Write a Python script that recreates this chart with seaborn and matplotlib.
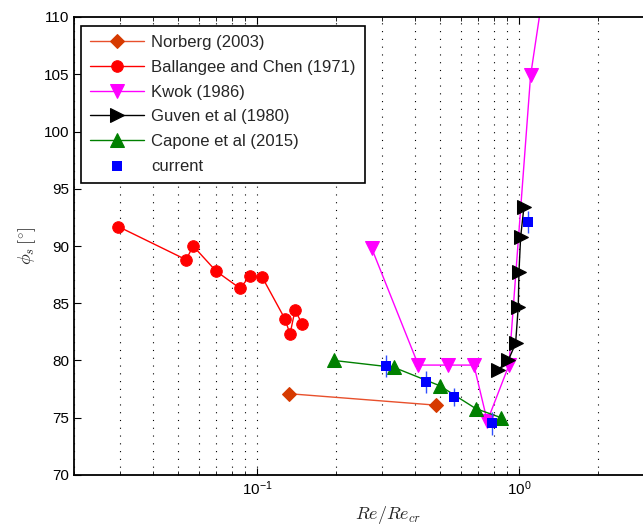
import numpy as np
import matplotlib
matplotlib.use('Agg')
import matplotlib.pyplot as plt
import seaborn as sns
from matplotlib.ticker import LogLocator, NullFormatter

# data
norberg_x = [0.1325, 0.482]
norberg_y = [77.1, 76.1]

ballangee_x = [0.0295, 0.0536, 0.057, 0.0698, 0.0861, 0.094, 0.1045, 0.128, 0.1336, 0.1396, 0.1486]
ballangee_y = [91.7, 88.8, 90.0, 87.8, 86.3, 87.4, 87.3, 83.6, 82.3, 84.4, 83.2]

kwok_x = [0.274, 0.413, 0.536, 0.673, 0.757, 0.916, 1.108, 1.5]
kwok_y = [89.8, 79.6, 79.6, 79.6, 74.7, 79.6, 104.9, 125.0]

guven_x = [0.834, 0.91, 0.971, 0.994, 1.0, 1.015, 1.045]
guven_y = [79.2, 80.0, 81.5, 84.7, 87.7, 90.8, 93.4]

capone_x = [0.197, 0.333, 0.498, 0.684, 0.856]
capone_y = [80.0, 79.4, 77.8, 75.8, 75.0]

current_x = [0.31, 0.44, 0.563, 0.787, 1.08]
current_y = [79.5, 78.1, 76.8, 74.5, 92.1]
current_err = [0.95, 0.95, 0.8, 1.0, 1.0]

sns.set_style('ticks')
plt.rcParams['font.family'] = ['Liberation Sans', 'DejaVu Sans']
plt.rcParams['mathtext.fontset'] = 'cm'

fig = plt.figure(figsize=(6.43, 5.26), dpi=100)
ax = fig.add_axes([74/643, 51/526, 628/643, 458/526])

sns.lineplot(x=norberg_x, y=norberg_y, ax=ax, color='#e8502c', linewidth=1,
             marker='D', markersize=7.3, markerfacecolor='#d63a00', markeredgecolor='#d63a00',
             label='Norberg (2003)', estimator=None, sort=False)
sns.lineplot(x=ballangee_x, y=ballangee_y, ax=ax, color='#ff0000', linewidth=1,
             marker='o', markersize=8.3, markerfacecolor='#ff0000', markeredgecolor='#ff0000',
             label='Ballangee and Chen (1971)', estimator=None, sort=False)
sns.lineplot(x=kwok_x, y=kwok_y, ax=ax, color='#ff00ff', linewidth=1,
             marker='v', markersize=9.5, markerfacecolor='#ff00ff', markeredgecolor='#ff00ff',
             label='Kwok (1986)', estimator=None, sort=False)
sns.lineplot(x=guven_x, y=guven_y, ax=ax, color='#000000', linewidth=1,
             marker='>', markersize=9.5, markerfacecolor='#000000', markeredgecolor='#000000',
             label='Guven et al (1980)', estimator=None, sort=False)
sns.lineplot(x=capone_x, y=capone_y, ax=ax, color='#008000', linewidth=1,
             marker='^', markersize=9.5, markerfacecolor='#008000', markeredgecolor='#008000',
             label='Capone et al (2015)', estimator=None, sort=False)
ax.errorbar(current_x, current_y, yerr=current_err, fmt='none', ecolor='#3050ff',
            elinewidth=1, capsize=0, zorder=5)
sns.scatterplot(x=current_x, y=current_y, ax=ax, marker='s', s=44, color='#0000ff',
                edgecolor='#0000ff', linewidth=0, label='current', zorder=6)

ax.set_xscale('log')
ax.set_xlim(0.02, 5)
ax.set_ylim(70, 110)
ax.set_yticks(np.arange(70, 111, 5))
ax.xaxis.set_major_locator(LogLocator(base=10))
ax.xaxis.set_minor_locator(LogLocator(base=10, subs=np.arange(2, 10)))
ax.xaxis.set_minor_formatter(NullFormatter())
ax.grid(True, which='both', axis='x', color='black', linestyle=(0, (1, 6)), linewidth=0.8)

for s in ['left', 'bottom', 'top']:
    ax.spines[s].set_linewidth(1.3)
    ax.spines[s].set_color('black')
ax.spines['right'].set_visible(False)
ax.tick_params(which='both', direction='in', top=True, labelsize=11, colors='black')
ax.tick_params(which='major', length=5)
ax.tick_params(which='minor', length=3)

ax.set_xlabel(r'$Re/Re_{cr}$', fontsize=13)
ax.set_ylabel(r'$\phi_s\,[^{\circ}]$', fontsize=13)

leg = ax.legend(loc='upper left', bbox_to_anchor=(0.011, 0.980), borderaxespad=0,
                fontsize=12, handlelength=3.25, handletextpad=0.4, borderpad=0.55,
                labelspacing=0.58, frameon=True, fancybox=False, edgecolor='black',
                framealpha=1)
leg.get_frame().set_linewidth(1.2)

fig.savefig('out.png', dpi=100)
